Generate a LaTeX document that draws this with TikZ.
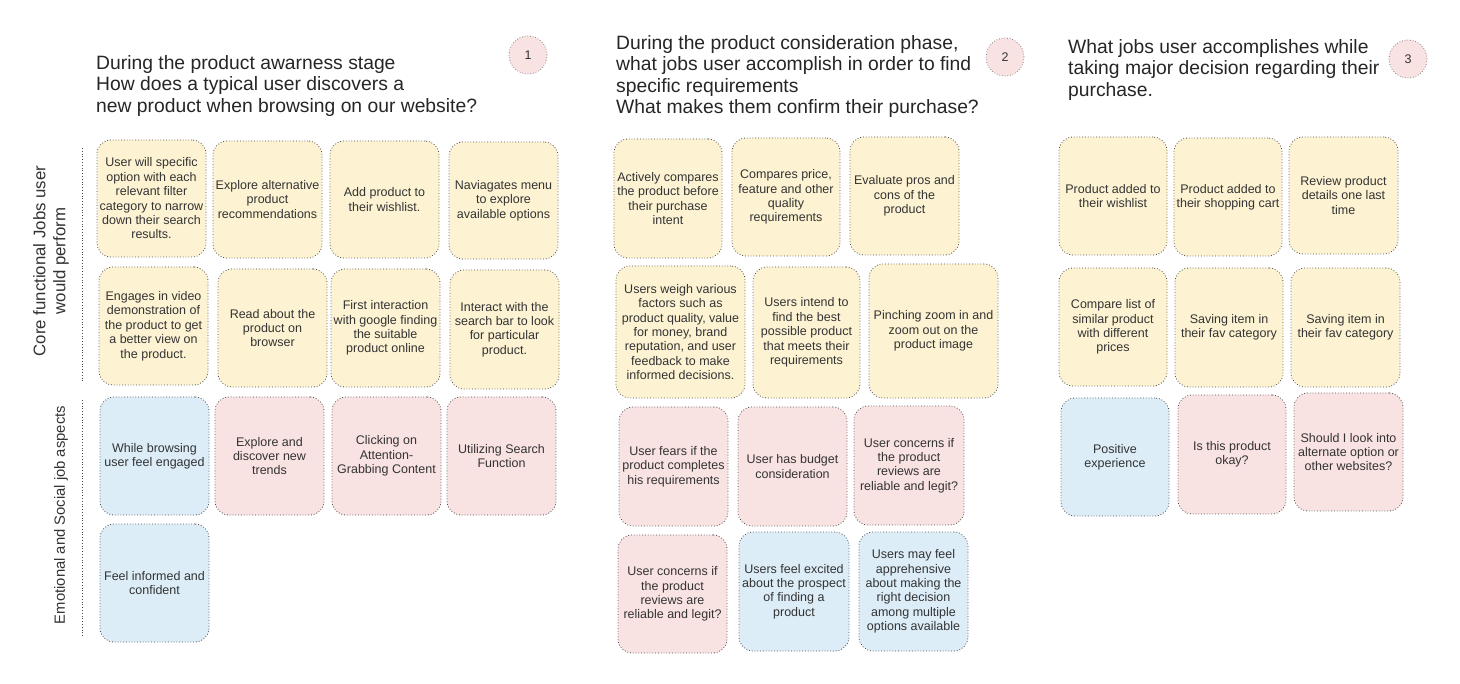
\documentclass[tikz,border=0pt]{standalone}
\usepackage{fontspec}
\setmainfont{Liberation Sans}
\begin{document}
\begin{tikzpicture}[x=1pt,y=-1pt,
  card/.style={draw=black!70, dotted, line width=0.8pt, rounded corners=14pt, inner sep=0pt, align=center,
    text=black!80, font=\fontsize{12.5}{14.4}\selectfont},
  ycard/.style={card, fill=yellowfill},
  pcard/.style={card, fill=pinkfill},
  bcard/.style={card, fill=bluefill},
  title/.style={anchor=north west, align=left, inner sep=0pt, text=black!85, font=\fontsize{19.3}{21.6}\selectfont},
  numc/.style={circle, draw=black!60, dotted, line width=0.7pt, fill=pinkfill, minimum size=38pt, inner sep=0pt,
    text=black!80, font=\fontsize{12.5}{14}\selectfont},
  sidelab/.style={rotate=90, align=center, inner sep=0pt, text=black!80},
  sep/.style={draw=black!70, dotted, line width=0.8pt}
]
\definecolor{yellowfill}{HTML}{FDF3D3}
\definecolor{pinkfill}{HTML}{F9E2E2}
\definecolor{bluefill}{HTML}{DCEDF8}
\newcommand\mybox[7]{%
  \pgfmathsetmacro\mbw{#5-#3}\pgfmathsetmacro\mbh{#6-#4}%
  \pgfmathsetmacro\mbx{(#3+#5)/2}\pgfmathsetmacro\mby{(#4+#6)/2}%
  \node[#2, minimum width=\mbw pt, minimum height=\mbh pt] (#1) at (\mbx,\mby) {#7};}
\useasboundingbox[fill=white] (0,0) rectangle (1460,684);

% side labels
\coordinate (s1a) at (82,148); \coordinate (s1b) at (82,383);
\coordinate (s2a) at (82,400); \coordinate (s2b) at (82,637);
\draw[sep] (s1a) -- (s1b);
\draw[sep] (s2a) -- (s2b);
\node[sidelab, font=\fontsize{16.8}{20}\selectfont] (lab1) at (51,261) {Core functional Jobs user\\would perform};
\node[sidelab, font=\fontsize{14.8}{18}\selectfont] (lab2) at (61,515) {Emotional and Social job aspects};

% titles
\node[title] (t1) at (96,55) {During the product awarness stage\\How does a typical user discovers a\\new product when browsing on our website?};
\node[title] (t2) at (616,35) {During the product consideration phase,\\what jobs user accomplish in order to find\\specific requirements\\What makes them confirm their purchase?};
\node[title] (t3) at (1068,39) {What jobs user accomplishes while\\taking major decision regarding their\\purchase.};
\node[numc] (n1) at (528,55) {1};
\node[numc] (n2) at (1005,57) {2};
\node[numc] (n3) at (1408,59) {3};

% column 1
\mybox{b1}{ycard}{97}{140}{206}{257}{User will specific\\option with each\\relevant filter\\category to narrow\\down their search\\results.}
\mybox{b2}{ycard}{213}{141}{322}{258}{Explore alternative\\product\\recommendations}
\mybox{b3}{ycard}{330}{141}{439}{258}{Add product to\\their wishlist.}
\mybox{b4}{ycard}{449}{142}{558}{259}{Naviagates menu\\to explore\\available options}
\mybox{b5}{ycard}{99}{267}{208}{385}{Engages in video\\demonstration of\\the product to get\\a better view on\\the product.}
\mybox{b6}{ycard}{218}{269}{327}{387}{Read about the\\product on\\browser}
\mybox{b7}{ycard}{331}{269}{440}{387}{First interaction\\with google finding\\the suitable\\product online}
\mybox{b8}{ycard}{450}{270}{559}{389}{Interact with the\\search bar to look\\for particular\\product.}
\mybox{e1}{bcard}{100}{397}{209}{515}{While browsing\\user feel engaged}
\mybox{e2}{pcard}{215}{397}{324}{515}{Explore and\\discover new\\trends}
\mybox{e3}{pcard}{332}{397}{441}{515}{Clicking on\\Attention-\\Grabbing Content}
\mybox{e4}{pcard}{447}{397}{556}{515}{Utilizing Search\\Function}
\mybox{e5}{bcard}{100}{524}{209}{642}{Feel informed and\\confident}

% column 2
\mybox{c1}{ycard}{614}{139}{722}{258}{Actively compares\\the product before\\their purchase\\intent}
\mybox{c2}{ycard}{732}{138}{840}{256}{Compares price,\\feature and other\\quality\\requirements}
\mybox{c3}{ycard}{850}{137}{959}{255}{Evaluate pros and\\cons of the\\product}
\mybox{c4}{ycard}{616}{266}{745}{398}{Users weigh various\\factors such as\\product quality, value\\for money, brand\\reputation, and user\\feedback to make\\informed decisions.}
\mybox{c5}{ycard}{753}{267}{860}{398}{Users intend to\\find the best\\possible product\\that meets their\\requirements}
\mybox{c6}{ycard}{869}{264}{998}{398}{Pinching zoom in and\\zoom out on the\\product image}
\mybox{c7}{pcard}{619}{407}{728}{526}{User fears if the\\product completes\\his requirements}
\mybox{c8}{pcard}{738}{407}{847}{526}{User has budget\\consideration}
\mybox{c9}{pcard}{854}{406}{964}{525}{User concerns if\\the product\\reviews are\\reliable and legit?}
\mybox{c10}{pcard}{618}{535}{727}{653}{User concerns if\\the product\\reviews are\\reliable and legit?}
\mybox{c11}{bcard}{739}{532}{849}{651}{Users feel excited\\about the prospect\\of finding a\\product}
\mybox{c12}{bcard}{859}{532}{968}{651}{Users may feel\\apprehensive\\about making the\\right decision\\among multiple\\options available}

% column 3
\mybox{d1}{ycard}{1059}{137}{1167}{255}{Product added to\\their wishlist}
\mybox{d2}{ycard}{1174}{138}{1282}{256}{Product added to\\their shopping cart}
\mybox{d3}{ycard}{1289}{137}{1398}{254}{Review product\\details one last\\time}
\mybox{d4}{ycard}{1059}{268}{1167}{386}{Compare list of\\similar product\\with different\\prices}
\mybox{d5}{ycard}{1175}{268}{1283}{387}{Saving item in\\their fav category}
\mybox{d6}{ycard}{1291}{268}{1400}{387}{Saving item in\\their fav category}
\mybox{d7}{bcard}{1061}{398}{1169}{516}{Positive\\experience}
\mybox{d8}{pcard}{1178}{395}{1286}{514}{Is this product\\okay?}
\mybox{d9}{pcard}{1294}{393}{1403}{511}{Should I look into\\alternate option or\\other websites?}
\end{tikzpicture}
\end{document}
